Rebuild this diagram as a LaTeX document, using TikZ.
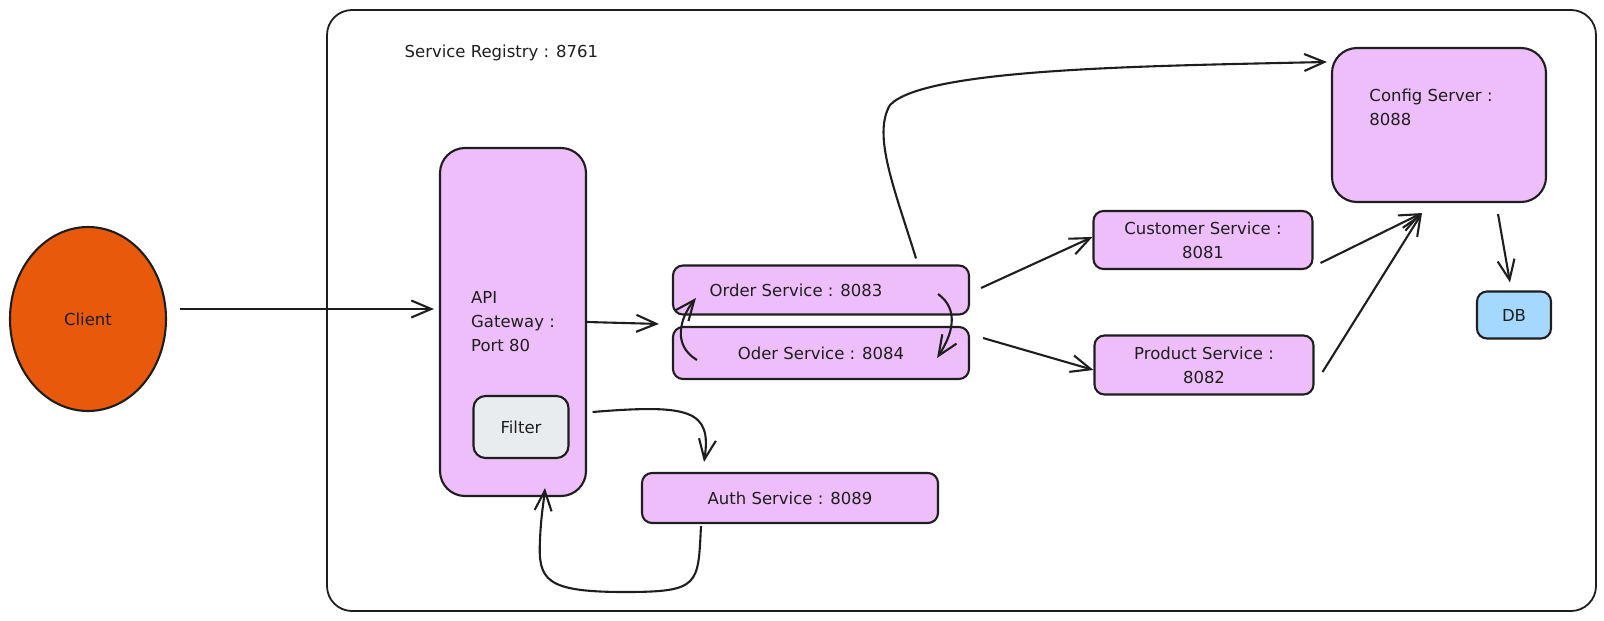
\documentclass[tikz,border=0pt]{standalone}
\usepackage{fontspec}
\setmainfont{DejaVu Sans}
\usetikzlibrary{shapes,arrows.meta}

\definecolor{violetfill}{HTML}{EEBEFA}
\definecolor{clientfill}{HTML}{E8590C}
\definecolor{filterfill}{HTML}{E9ECEF}
\definecolor{dbfill}{HTML}{A5D8FF}
\definecolor{ink}{HTML}{1E1E1E}

\begin{document}
\begin{tikzpicture}[x=1pt, y=-1pt,
    every node/.style={font=\fontsize{16.5}{24}\selectfont, text=ink},
    box/.style={rectangle, rounded corners=10pt, draw=ink, line width=2.1pt, fill=violetfill, inner sep=0pt, align=center},
    arr/.style={draw=ink, line width=2.1pt, -{Straight Barb[length=20pt,width=17pt]}}]
        \useasboundingbox (0,0) rectangle (1604,621);

        % Service Registry frame
        \node[rectangle, rounded corners=25pt, draw=ink, line width=1.8pt, minimum width=1269pt, minimum height=601pt,
            label={[anchor=west, xshift=75pt, yshift=-44pt]north west:{Service Registry : 8761}}] (registry) at (961.5,310.5) {};

        % Client
        \node[ellipse, draw=ink, line width=2.1pt, fill=clientfill, minimum width=156pt, minimum height=184pt] (client) at (88,319) {Client};

        % API Gateway and its filter
        \node[box, rounded corners=25pt, minimum width=146pt, minimum height=348pt, align=left] (api) at (513,322) {API\\Gateway :\\Port 80};
        \node[box, rounded corners=12pt, fill=filterfill, minimum width=95pt, minimum height=62pt] (filter) at (521,427) {Filter};

        % Services
        \node[box, minimum width=296pt, minimum height=49pt] (order1) at (821,290) {\hspace*{-50pt}Order Service : 8083};
        \node[box, minimum width=296pt, minimum height=52pt] (order2) at (821,353) {Oder Service : 8084};
        \node[box, minimum width=296pt, minimum height=50pt] (auth) at (790,498) {Auth Service : 8089};
        \node[box, minimum width=219pt, minimum height=58pt] (customer) at (1203,240) {Customer Service :\\8081};
        \node[box, minimum width=219pt, minimum height=59pt] (product) at (1204,365) {Product Service :\\8082};

        % Config server and DB
        \node[box, rounded corners=25pt, minimum width=214pt, minimum height=154pt,
            label={[anchor=north west, align=left, xshift=35pt, yshift=-38pt]north west:{Config Server :\\8088}}] (config) at (1439,125) {};
        \node[box, fill=dbfill, minimum width=74pt, minimum height=47pt] (db) at (1514,315) {DB};

        % Client to gateway to orders
        \draw[arr] ([xshift=13pt,yshift=10pt]client.east) -- ([xshift=-5pt,yshift=13pt]api.west);
        \draw[arr] (api.east) -- ([xshift=-13pt,yshift=2pt]order2.north west);

        % Between the two order services
        \draw[arr] ([xshift=-32pt,yshift=-4pt]order1.east) .. controls (960,310) and (952,335) .. ([xshift=-33pt,yshift=-5pt]order2.east);
        \draw[arr] ([xshift=25pt,yshift=-7pt]order2.west) .. controls (672,345) and (680,318) .. ([xshift=24pt,yshift=-8pt]order1.west);

        % Orders to config, customer and product
        \draw[arr] ([xshift=95pt,yshift=6pt]order1.north) .. controls (895,190) and (872,135) .. (890,105) .. controls (925,68) and (1150,66) .. ([xshift=-4pt,yshift=-15pt]config.north west);
        \draw[arr] ([xshift=11pt,yshift=2pt]order1.east) -- ([yshift=3pt]customer.west);
        \draw[arr] ([xshift=13pt,yshift=15pt]order2.east) -- ([yshift=-5pt]product.west);

        % Customer and product to config, config to DB
        \draw[arr] ([xshift=7pt,yshift=-23pt]customer.east) -- ([xshift=-17pt,yshift=-10pt]config.south);
        \draw[arr] ([xshift=8pt,yshift=-7pt]product.east) -- ([xshift=-17pt,yshift=-10pt]config.south);
        \draw[arr] ([xshift=59pt,yshift=-11pt]config.south) -- ([xshift=-4pt,yshift=8pt]db.north);

        % Filter to auth and back to gateway
        \draw[arr] ([xshift=23pt,yshift=15pt]filter.east) .. controls (690,404) and (712,410) .. ([xshift=-86pt,yshift=10pt]auth.north);
        \draw[arr] ([xshift=-89pt,yshift=-2pt]auth.south) .. controls (698,585) and (700,592) .. (625,592) .. controls (545,592) and (538,580) .. (540,540) .. controls (541,515) and (544,500) .. ([xshift=32pt,yshift=9pt]api.south);
\end{tikzpicture}
\end{document}
